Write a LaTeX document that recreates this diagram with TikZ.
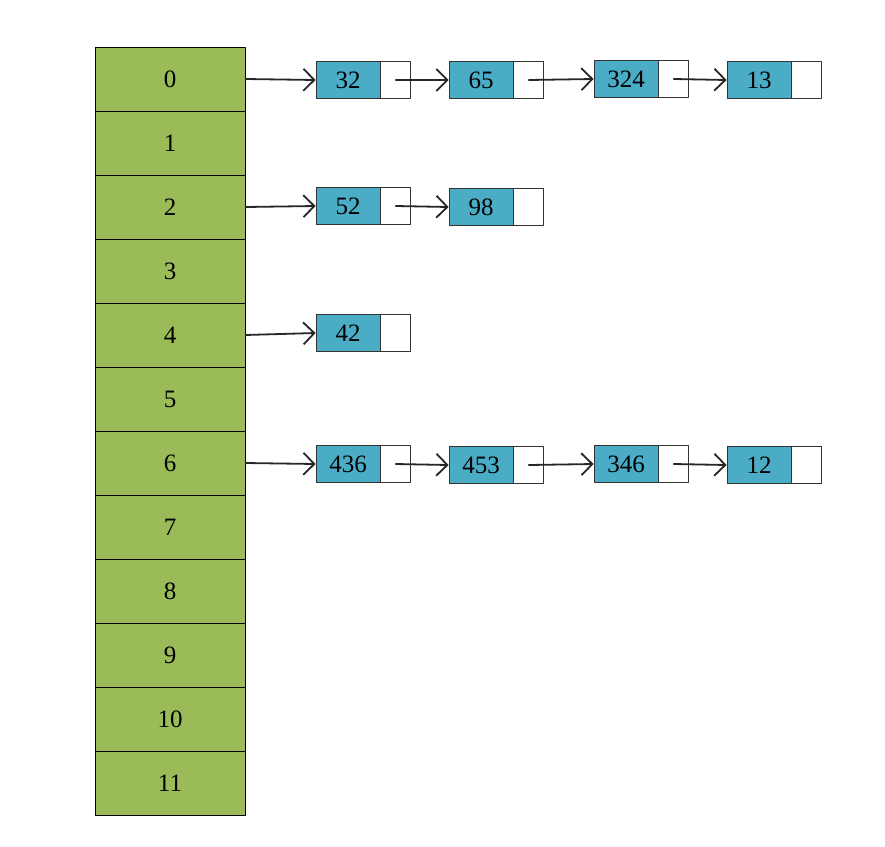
\documentclass[tikz,border=0pt]{standalone}
\usepackage{fontspec}
\setmainfont{Liberation Serif}
\usetikzlibrary{arrows.meta,positioning}
\definecolor{bucketgreen}{HTML}{9BBB59}
\definecolor{keyblue}{HTML}{4BACC6}

\begin{document}
\begin{tikzpicture}[line cap=round,line join=round,>={Straight Barb[length=11pt,width=22pt]},x=1pt,y=-1pt,
  font=\fontsize{25}{30}\selectfont,
  bucket/.style={draw=black,fill=bucketgreen,minimum width=150pt,minimum height=64pt,inner sep=0pt,line width=0.9pt},
  keybox/.style={draw=black!80,fill=keyblue,minimum width=64pt,minimum height=37pt,inner sep=0pt,line width=0.8pt},
  ptrbox/.style={draw=black!80,fill=white,minimum width=30pt,minimum height=37pt,inner sep=0pt,line width=0.8pt,right=0pt of #1},
  link/.style={->,line width=1.8pt,black!85}]
\useasboundingbox (0,0) rectangle (885,846);

% buckets
\foreach \i in {0,...,11}
  \node[bucket] (b\i) at (170,{79+64*\i}) {\i};

% row 0
\node[keybox] (k32) at (348,80) {32};
\node[ptrbox=k32] (p32) {};
\node[keybox] (k65) at (481,80) {65};
\node[ptrbox=k65] (p65) {};
\node[keybox] (k324) at (626,79) {324};
\node[ptrbox=k324] (p324) {};
\node[keybox] (k13) at (759,80) {13};
\node[ptrbox=k13] (p13) {};

% row 2
\node[keybox] (k52) at (348,206) {52};
\node[ptrbox=k52] (p52) {};
\node[keybox] (k98) at (481,207) {98};
\node[ptrbox=k98] (p98) {};

% row 4
\node[keybox] (k42) at (348,333) {42};
\node[ptrbox=k42] (p42) {};

% row 6
\node[keybox] (k436) at (348,464) {436};
\node[ptrbox=k436] (p436) {};
\node[keybox] (k453) at (481,465) {453};
\node[ptrbox=k453] (p453) {};
\node[keybox] (k346) at (626,464) {346};
\node[ptrbox=k346] (p346) {};
\node[keybox] (k12) at (759,465) {12};
\node[ptrbox=k12] (p12) {};

% links
\draw[link] (b0.east) -- (k32.west);
\draw[link] (p32.center) -- (k65.west);
\draw[link] (p65.center) -- (k324.west);
\draw[link] (p324.center) -- (k13.west);
\draw[link] (b2.east) -- (k52.west);
\draw[link] (p52.center) -- (k98.west);
\draw[link] (b4.east) -- (k42.west);
\draw[link] (b6.east) -- (k436.west);
\draw[link] (p436.center) -- (k453.west);
\draw[link] (p453.center) -- (k346.west);
\draw[link] (p346.center) -- (k12.west);
\end{tikzpicture}
\end{document}
